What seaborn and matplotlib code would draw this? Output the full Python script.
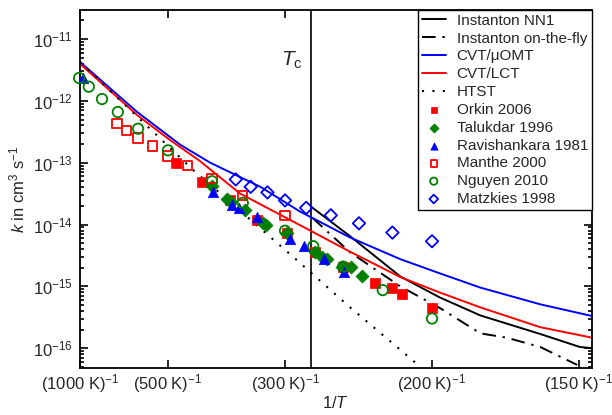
import numpy as np
import pandas as pd
import matplotlib
matplotlib.use("Agg")
import matplotlib.pyplot as plt
import seaborn as sns
from matplotlib.ticker import FixedLocator, NullFormatter, LogFormatterSciNotation

# ---------------- data (x given as 1000/T in K^-1, y as log10 k in cm^3 s^-1) ----------------
tick_T = [1000, 500, 300, 200, 150]
tick_labels = [r"(1000 K)$^{-1}$", r"(500 K)$^{-1}$", r"(300 K)$^{-1}$",
               r"(200 K)$^{-1}$", r"(150 K)$^{-1}$"]
y_decades = [-16, -15, -14, -13, -12, -11]
Tc_K = 276

cvt_omt_x = [1.0, 1.65, 2.14, 2.48, 3.05, 3.5, 4.07, 4.64, 5.09, 5.55, 6.23, 6.82]
cvt_omt_lk = [-11.37, -12.18, -12.71, -13.0, -13.39, -13.79, -14.21, -14.56, -14.79, -15.02, -15.29, -15.48]

cvt_lct_x = [1.0, 1.65, 2.02, 2.36, 2.82, 3.5, 4.07, 4.64, 5.09, 5.55, 6.23, 6.82]
cvt_lct_lk = [-11.40, -12.23, -12.63, -12.97, -13.50, -14.01, -14.44, -14.85, -15.10, -15.34, -15.66, -15.83]

nn1_x = [3.625, 4.07, 4.64, 5.09, 5.55, 6.23, 6.68, 6.82]
nn1_lk = [-13.71, -14.19, -14.84, -15.18, -15.47, -15.77, -15.98, -16.0]

otf_x = [3.64, 4.07, 4.64, 5.09, 5.55, 5.85, 6.23, 6.65]
otf_lk = [-13.89, -14.45, -15.0, -15.35, -15.76, -15.83, -15.98, -16.27]

htst_x = [1.0, 2.28, 3.42, 4.07, 4.9]
htst_lk = [-11.37, -13.11, -14.52, -15.34, -16.34]

orkin_x = [2.09, 2.39, 2.70, 3.01, 3.35, 3.67, 3.99, 4.35, 4.55, 4.66, 5.0]
orkin_lk = [-13.0, -13.31, -13.6, -13.92, -14.13, -14.44, -14.68, -14.94, -15.03, -15.13, -15.35]

talukdar_x = [2.5, 2.67, 2.72, 2.875, 3.08, 3.11, 3.35, 3.67, 3.75, 3.81, 3.98, 4.08, 4.2]
talukdar_lk = [-13.38, -13.58, -13.63, -13.76, -13.97, -14.0, -14.13, -14.44, -14.52, -14.55, -14.68, -14.68, -14.84]

ravi_x = [1.03, 2.51, 2.73, 2.81, 3.01, 3.39, 3.55, 3.77, 4.0]
ravi_lk = [-11.63, -13.47, -13.68, -13.73, -13.87, -14.23, -14.35, -14.56, -14.76]

manthe_x = [1.42, 1.53, 1.66, 1.82, 2.0, 2.22, 2.5, 2.85, 3.33]
manthe_lk = [-12.37, -12.48, -12.6, -12.73, -12.89, -13.05, -13.26, -13.53, -13.85]

nguyen_x = [0.99, 1.1, 1.25, 1.43, 1.66, 2.0, 2.5, 2.85, 3.33, 3.65, 3.99, 4.44, 5.0]
nguyen_lk = [-11.63, -11.77, -11.97, -12.18, -12.45, -12.8, -13.3, -13.65, -14.1, -14.35, -14.68, -15.06, -15.52]

matzkies_x = [2.77, 2.94, 3.13, 3.33, 3.57, 3.85, 4.17, 4.55, 5.0]
matzkies_lk = [-13.27, -13.39, -13.48, -13.61, -13.73, -13.85, -13.98, -14.13, -14.27]

# ---------------- style ----------------
sns.set_theme(style="ticks")
plt.rcParams["font.family"] = ["Liberation Sans", "DejaVu Sans"]
plt.rcParams["mathtext.fontset"] = "custom"
plt.rcParams["mathtext.rm"] = "Liberation Sans"
plt.rcParams["mathtext.it"] = "Liberation Sans:italic"
plt.rcParams["mathtext.bf"] = "Liberation Sans:bold"
plt.rcParams["axes.linewidth"] = 1.3
plt.rcParams["axes.unicode_minus"] = False

fig = plt.figure(figsize=(6.12, 4.15), dpi=100)
ax = fig.add_axes([80 / 612, 1 - 368 / 415, 512 / 612, 358 / 415])


def xy(xs, lks):
    return pd.DataFrame({"x": np.array(xs) / 1000.0, "k": 10.0 ** np.array(lks)})


lw = 1.4
d = xy(nn1_x, nn1_lk)
sns.lineplot(data=d, x="x", y="k", ax=ax, color="black", lw=lw, label="Instanton NN1")
d = xy(otf_x, otf_lk)
sns.lineplot(data=d, x="x", y="k", ax=ax, color="black", lw=lw,
             linestyle=(0, (7, 3.5, 1.2, 3.5)), label="Instanton on-the-fly")
d = xy(cvt_omt_x, cvt_omt_lk)
sns.lineplot(data=d, x="x", y="k", ax=ax, color="#0000ff", lw=lw, label="CVT/\u03bcOMT")
d = xy(cvt_lct_x, cvt_lct_lk)
sns.lineplot(data=d, x="x", y="k", ax=ax, color="#ff0000", lw=lw, label="CVT/LCT")
d = xy(htst_x, htst_lk)
sns.lineplot(data=d, x="x", y="k", ax=ax, color="black", lw=1.5,
             linestyle=(0, (1, 4)), label="HTST")

ms = 44
d = xy(orkin_x, orkin_lk)
sns.scatterplot(data=d, x="x", y="k", ax=ax, marker="s", s=ms, color="#ff0000",
                edgecolor="#ff0000", linewidth=0.5, label="Orkin 2006", clip_on=False, zorder=4)
d = xy(talukdar_x, talukdar_lk)
sns.scatterplot(data=d, x="x", y="k", ax=ax, marker="D", s=ms, color="#008000",
                edgecolor="#008000", linewidth=0.5, label="Talukdar 1996", clip_on=False, zorder=4)
d = xy(ravi_x, ravi_lk)
sns.scatterplot(data=d, x="x", y="k", ax=ax, marker="^", s=ms + 12, color="#0000ff",
                edgecolor="#0000ff", linewidth=0.5, label="Ravishankara 1981", clip_on=False, zorder=4)
d = xy(manthe_x, manthe_lk)
sns.scatterplot(data=d, x="x", y="k", ax=ax, marker="s", s=ms, facecolor="none",
                edgecolor="#ff0000", linewidth=1.3, label="Manthe 2000", clip_on=False, zorder=4)
d = xy(nguyen_x, nguyen_lk)
sns.scatterplot(data=d, x="x", y="k", ax=ax, marker="o", s=ms + 12, facecolor="none",
                edgecolor="#008000", linewidth=1.3, label="Nguyen 2010", clip_on=False, zorder=4)
d = xy(matzkies_x, matzkies_lk)
sns.scatterplot(data=d, x="x", y="k", ax=ax, marker="D", s=ms - 4, facecolor="none",
                edgecolor="#0000ff", linewidth=1.3, label="Matzkies 1998", clip_on=False, zorder=4)

ax.axvline(1.0 / Tc_K, color="black", lw=1.2, zorder=1)
ax.text(1.0 / Tc_K - 0.00009, 10 ** -11.34, r"$T_{\rm c}$", fontsize=15,
        ha="right", va="center")

ax.set_yscale("log")
ax.set_xlim(1.0 / 1000, 6.818 / 1000)
ax.set_ylim(10 ** -16.32, 10 ** -10.53)

ax.xaxis.set_major_locator(FixedLocator([1.0 / t for t in tick_T]))
ax.set_xticklabels(tick_labels)
ax.yaxis.set_major_locator(FixedLocator([10.0 ** e for e in y_decades]))
ax.yaxis.set_major_formatter(LogFormatterSciNotation())
minor = [m * 10.0 ** e for e in range(-17, -10) for m in range(2, 10)
         if 10 ** -16.32 <= m * 10.0 ** e <= 10 ** -10.53]
ax.yaxis.set_minor_locator(FixedLocator(minor))
ax.yaxis.set_minor_formatter(NullFormatter())

ax.tick_params(which="both", direction="in", top=True, right=True, labelsize=12,
               color="black", width=1.2)
ax.tick_params(which="major", length=6)
ax.tick_params(axis="x", which="major", pad=3)
ax.tick_params(axis="y", which="major", pad=5)
ax.tick_params(which="minor", length=3)

ax.set_xlabel("1/$T$", fontsize=12, labelpad=0)
ax.set_ylabel(r"$k$ in cm$^3$ s$^{-1}$", fontsize=12, labelpad=4)

leg = ax.legend(loc="upper right", fontsize=11, frameon=True, fancybox=False,
                framealpha=1, edgecolor="black", borderaxespad=0.0,
                handlelength=1.6, handletextpad=0.7, labelspacing=0.25,
                borderpad=0.25, markerscale=0.7)
leg.get_frame().set_linewidth(1.0)
leg.set_zorder(5)

for s in ax.spines.values():
    s.set_color("black")

fig.savefig("out.png", dpi=100)
